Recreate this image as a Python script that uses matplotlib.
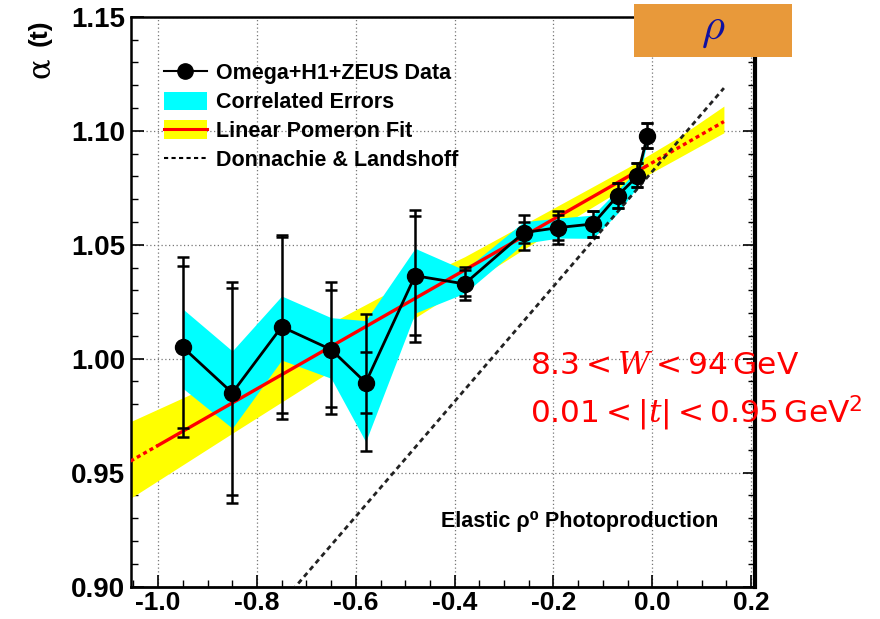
import matplotlib
matplotlib.use("Agg")
import matplotlib.pyplot as plt
from matplotlib.lines import Line2D
from matplotlib.patches import Patch, Rectangle
from matplotlib.ticker import MultipleLocator, FormatStrFormatter
from matplotlib import font_manager

plt.rcParams['mathtext.fontset'] = 'cm'
plt.rcParams['mathtext.rm'] = 'DejaVu Sans'
plt.rcParams['mathtext.sf'] = 'DejaVu Sans'
plt.rcParams['mathtext.it'] = 'DejaVu Serif:italic'
plt.rcParams['mathtext.bf'] = 'DejaVu Sans:bold'

# ---------------- data ----------------
t_vals = [-0.95, -0.85, -0.75, -0.65, -0.58, -0.48, -0.38, -0.26, -0.19, -0.12, -0.07, -0.03, -0.01]
alpha_vals = [1.005, 0.985, 1.014, 1.004, 0.9895, 1.0364, 1.0328, 1.0553, 1.0575, 1.0591, 1.0715, 1.0801, 1.0977]
outer_hi = [1.0447, 1.0338, 1.0544, 1.0338, 1.0196, 1.0652, 1.0404, 1.0630, 1.0649, 1.0648, 1.0769, 1.0857, 1.1032]
inner_hi = [1.0407, 1.0309, 1.0532, 1.0301, 1.0031, 1.0626, 1.0389, 1.0598, 1.0630, 1.0648, 1.0769, 1.0857, 1.1032]
inner_lo = [0.9695, 0.9402, 0.9763, 0.9789, 0.9760, 1.0104, 1.0275, 1.0506, 1.0521, 1.0535, 1.0660, 1.0754, 1.0923]
outer_lo = [0.9658, 0.9368, 0.9734, 0.9756, 0.9597, 1.0075, 1.0257, 1.0477, 1.0503, 1.0535, 1.0660, 1.0754, 1.0923]
corr_hi = [1.0218, 1.0034, 1.0275, 1.0180, 1.0167, 1.0484, 1.0389, 1.0601, 1.0617, 1.0630, 1.0740, 1.0828, 1.1000]
corr_lo = [0.9870, 0.9695, 0.9994, 0.9914, 0.9636, 1.0200, 1.0287, 1.0506, 1.0529, 1.0528, 1.0638, 1.0754, 1.0955]

band_t = [-1.056, -0.85, -0.55, -0.38, -0.20, -0.05, 0.05, 0.145]
band_hi = [0.9724, 0.9927, 1.0272, 1.0447, 1.0660, 1.0838, 1.0967, 1.1108]
band_lo = [0.9388, 0.9673, 1.0084, 1.0316, 1.0562, 1.0758, 1.0877, 1.0991]

fit_t_left = [-1.056, -1.00]
fit_a_left = [0.9551, 0.9620]
fit_t_mid = [-1.00, -0.015]
fit_a_mid = [0.9620, 1.0841]
fit_t_right = [-0.015, 0.145]
fit_a_right = [1.0841, 1.1040]

dl_t = [-0.74, 0.145]
dl_a = [0.8955, 1.1187]

legend_labels = ["Omega+H1+ZEUS Data", "Correlated Errors", "Linear Pomeron Fit", "Donnachie & Landshoff"]
xtick_vals = [-1.0, -0.8, -0.6, -0.4, -0.2, 0.0, 0.2]
ytick_vals = [0.90, 0.95, 1.00, 1.05, 1.10, 1.15]

# ---------------- fonts ----------------
avail = {f.name for f in font_manager.fontManager.ttflist}
sans = 'Liberation Sans' if 'Liberation Sans' in avail else 'DejaVu Sans'
narrow = 'Liberation Sans Narrow' if 'Liberation Sans Narrow' in avail else sans

fig = plt.figure(figsize=(8.8, 6.19), dpi=100)
ax = fig.add_axes([0.1483, 0.0522, 0.7097, 0.9208])
ax.set_xlim(-1.056, 0.208)
ax.set_ylim(0.90, 1.15)

# bands
ax.fill_between(band_t, band_lo, band_hi, color='#ffff00', lw=0, zorder=1)
ax.fill_between(t_vals, corr_lo, corr_hi, color='#00ffff', lw=0, zorder=2)

# fit line
ax.plot(fit_t_left, fit_a_left, color='#ff0000', lw=2.4, ls=(0, (1.2, 1.0)), zorder=3)
ax.plot(fit_t_mid, fit_a_mid, color='#ff0000', lw=2.4, zorder=3)
ax.plot(fit_t_right, fit_a_right, color='#ff0000', lw=2.4, ls=(0, (1.2, 1.0)), zorder=3)

# Donnachie-Landshoff
ax.plot(dl_t, dl_a, color='#222222', lw=2.0, ls=(0, (1.8, 1.4)), zorder=3)

# data line
ax.plot(t_vals, alpha_vals, color='black', lw=2.0, zorder=4)
# error bars
ax.vlines(t_vals, outer_lo, outer_hi, color='black', lw=1.8, zorder=5)
for arr in (outer_hi, inner_hi, inner_lo, outer_lo):
    ax.plot(t_vals, arr, ls='none', marker='_', ms=8, mew=1.8, color='black', zorder=5)
ax.plot(t_vals, alpha_vals, ls='none', marker='o', ms=11.5, color='black', zorder=6)

# axes styling
ax.set_xticks(xtick_vals)
ax.set_yticks(ytick_vals)
ax.xaxis.set_minor_locator(MultipleLocator(0.05))
ax.yaxis.set_minor_locator(MultipleLocator(0.01))
ax.yaxis.set_major_formatter(FormatStrFormatter('%.2f'))
ax.xaxis.set_major_formatter(FormatStrFormatter('%.1f'))
ax.tick_params(which='major', direction='in', length=9, width=1.2, right=True, top=False)
ax.tick_params(which='minor', direction='in', length=5, width=1.0, right=True, top=False)
ax.tick_params(axis='y', pad=4)
ax.tick_params(axis='x', pad=3)
for lab in ax.get_yticklabels():
    lab.set_fontfamily(sans); lab.set_fontweight('bold'); lab.set_fontsize(20)
for lab in ax.get_xticklabels():
    lab.set_fontfamily(narrow); lab.set_fontweight('bold'); lab.set_fontsize(19)
ax.set_axisbelow(True)
ax.grid(True, which='major', color='#777777', ls=(0, (1, 2)), lw=0.9)
for side, lw in (('left', 1.8), ('bottom', 2.0), ('top', 1.8), ('right', 3.0)):
    ax.spines[side].set_linewidth(lw)

# legend
h_data = Line2D([], [], color='black', lw=1.5, marker='o', ms=11)
h_corr = Patch(facecolor='#00ffff', edgecolor='none')
h_fit = (Patch(facecolor='#ffff00', edgecolor='none'), Line2D([], [], color='#ff0000', lw=2.2))
h_dl = Line2D([], [], color='black', lw=1.5, ls=(0, (2, 1.6)))
leg = ax.legend([h_data, h_corr, h_fit, h_dl], legend_labels, loc='upper left',
                bbox_to_anchor=(0.036, 0.938), frameon=False, borderpad=0.0,
                handlelength=2.0, handleheight=0.95, handletextpad=0.45,
                labelspacing=0.33,
                prop={'family': sans, 'weight': 'bold', 'size': 15.5})

# annotation texts
ax.text(0.497, 0.115, "Elastic ρ⁰ Photoproduction", transform=ax.transAxes,
        fontsize=15.5, fontweight='bold', family=[sans, 'DejaVu Sans'], va='center', ha='left')

fig.text(530 / 880, 1 - 366 / 619, r"$8.3 < W < 94\,\mathrm{GeV}$", math_fontfamily='custom',
         color='#ff0000', fontsize=22.5, va='center', ha='left')
fig.text(530 / 880, 1 - 413 / 619, r"$0.01 < |t| < 0.95\,\mathrm{GeV}^{2}$", math_fontfamily='custom',
         color='#ff0000', fontsize=22.5, va='center', ha='left')

# y label
fig.text(40 / 880, 1 - 68 / 619, "α", rotation=90, fontsize=22, family='DejaVu Serif',
         va='center', ha='center')
fig.text(40 / 880, 1 - 33 / 619, "(t)", rotation=90, fontsize=19, family=sans,
         fontweight='bold', va='center', ha='center')

# rho box
fig.patches.append(Rectangle((634 / 880, 1 - 57 / 619), 158 / 880, 53 / 619,
                             transform=fig.transFigure, facecolor='#e8993a',
                             edgecolor='none', zorder=10))
fig.text(713 / 880, 1 - 28 / 619, r"$\rho$", color='#1010a0', fontsize=32,
         va='center', ha='center', zorder=11, math_fontfamily='cm')

fig.savefig('out.png', dpi=100)
